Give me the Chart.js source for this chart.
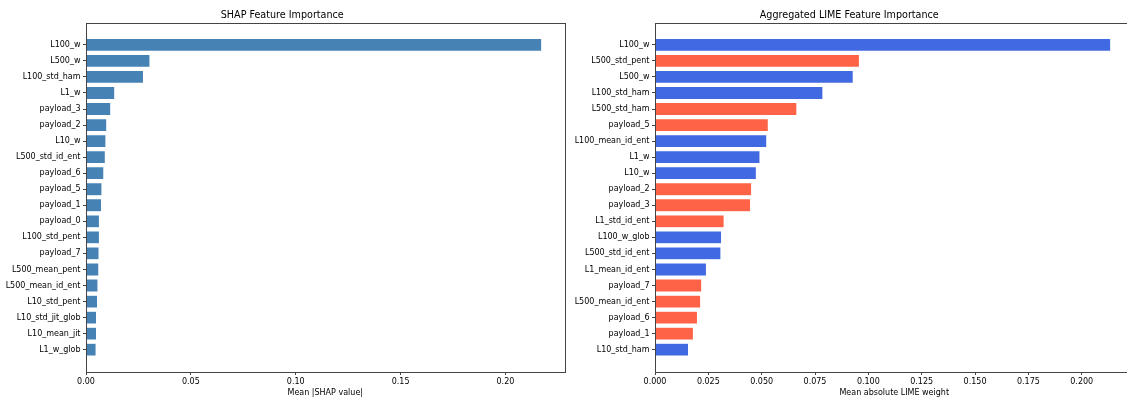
<!DOCTYPE html>
<html lang="en">
<head>
<meta charset="UTF-8">
<title>SHAP vs LIME feature importance</title>
<script src="https://cdn.jsdelivr.net/npm/chart.js"></script>
<style>
  html, body { margin: 0; padding: 0; background: #fff; overflow: hidden; width: 1127px; height: 398px; }
  canvas { position: absolute; top: 0; }
  #shap { left: 0; }
  #lime { left: 565px; }
</style>
</head>
<body>
<canvas id="shap" width="570" height="398" style="width:570px;height:398px"></canvas>
<canvas id="lime" width="575" height="398" style="width:575px;height:398px"></canvas>
<script>
// --- SHAP (left) ---
const shapFeatures = ['L100_w', 'L500_w', 'L100_std_ham', 'L1_w', 'payload_3', 'payload_2', 'L10_w',
  'L500_std_id_ent', 'payload_6', 'payload_5', 'payload_1', 'payload_0', 'L100_std_pent', 'payload_7',
  'L500_mean_pent', 'L500_mean_id_ent', 'L10_std_pent', 'L10_std_jit_glob', 'L10_mean_jit', 'L1_w_glob'];
const shapValues = [0.2173, 0.0305, 0.0274, 0.0137, 0.0118, 0.0099, 0.0095,
  0.0092, 0.0085, 0.0076, 0.0074, 0.0064, 0.0064, 0.0062,
  0.0061, 0.0057, 0.0055, 0.0050, 0.0050, 0.0048];
const shapTicks = [0, 0.05, 0.10, 0.15, 0.20];

// --- LIME (right) ---
const limeFeatures = ['L100_w', 'L500_std_pent', 'L500_w', 'L100_std_ham', 'L500_std_ham', 'payload_5',
  'L100_mean_id_ent', 'L1_w', 'L10_w', 'payload_2', 'payload_3', 'L1_std_id_ent', 'L100_w_glob',
  'L500_std_id_ent', 'L1_mean_id_ent', 'payload_7', 'L500_mean_id_ent', 'payload_6', 'payload_1', 'L10_std_ham'];
const limeValues = [0.2136, 0.0958, 0.0929, 0.0787, 0.0665, 0.0531,
  0.0524, 0.0492, 0.0475, 0.0453, 0.0448, 0.0324, 0.0312,
  0.0309, 0.0241, 0.0219, 0.0214, 0.0199, 0.0180, 0.0157];
// +1 = positive mean weight, -1 = negative
const limeSign = [1, -1, 1, 1, -1, -1, 1, 1, 1, -1, -1, -1, 1, 1, 1, -1, -1, -1, -1, 1];
const limeTicks = [0, 0.025, 0.05, 0.075, 0.10, 0.125, 0.15, 0.175, 0.20];

const FONT = 'DejaVu Sans';
const SPINE = '#444';

// matplotlib-like box around the plot area
const framePlugin = {
  id: 'frame',
  afterDraw(chart) {
    const a = chart.chartArea, ctx = chart.ctx;
    ctx.save();
    ctx.strokeStyle = SPINE;
    ctx.lineWidth = 1;
    ctx.strokeRect(Math.round(a.left) + 0.5, Math.round(a.top) + 0.5,
      Math.round(a.right - a.left), Math.round(a.bottom - a.top));
    ctx.restore();
  }
};

function makeChart(id, names, values, colors, ticks, title, xTitle, yWidth, padRight) {
  const n = names.length;
  const margin = (n - 1 + 0.8) * 0.05;
  const xMax = Math.max(...values) * 1.05;
  return new Chart(document.getElementById(id), {
    type: 'bar',
    data: {
      datasets: [{
        data: values.map((v, i) => ({ x: v, y: i })),
        backgroundColor: colors,
        borderColor: 'rgba(255,255,255,0.5)',
        borderWidth: 0.5,
        barPercentage: 0.8,
        categoryPercentage: 1
      }]
    },
    plugins: [framePlugin],
    options: {
      indexAxis: 'y',
      responsive: false,
      animation: false,
      devicePixelRatio: 1,
      layout: { padding: { left: 0, right: padRight, top: 0, bottom: 0 } },
      plugins: {
        legend: { display: false },
        tooltip: { enabled: false },
        title: {
          display: true,
          text: title,
          color: '#000',
          font: { family: FONT, size: 9.6, weight: 'normal' },
          padding: { top: 10, bottom: 1 }
        }
      },
      scales: {
        x: {
          type: 'linear',
          min: 0,
          max: xMax,
          afterFit: (s) => { s.height = 26; },
          afterBuildTicks: (s) => { s.ticks = ticks.map(v => ({ value: v })); },
          ticks: {
            color: '#000',
            padding: 2.5,
            font: { family: FONT, size: 8 },
            callback: (v) => v.toFixed(ticks[1] < 0.05 ? 3 : 2)
          },
          grid: { drawOnChartArea: false, tickLength: 3, color: SPINE },
          border: { display: false },
          title: {
            display: true,
            text: xTitle,
            color: '#000',
            font: { family: FONT, size: 8 },
            padding: { top: 0, bottom: 0 }
          }
        },
        y: {
          type: 'linear',
          reverse: true,
          offset: false,
          min: -0.4 - margin,
          max: n - 1 + 0.4 + margin,
          afterFit: (s) => { s.width = yWidth; },
          afterBuildTicks: (s) => { s.ticks = names.map((_, i) => ({ value: i })); },
          ticks: {
            color: '#000',
            padding: 2.5,
            autoSkip: false,
            font: { family: FONT, size: 8 },
            callback: (v) => names[v]
          },
          grid: { drawOnChartArea: false, tickLength: 3, color: SPINE, offset: false },
          border: { display: false }
        }
      }
    }
  });
}

makeChart('shap', shapFeatures, shapValues, '#4682B4', shapTicks,
  'SHAP Feature Importance', 'Mean |SHAP value|', 86, 5.5);

makeChart('lime', limeFeatures, limeValues, limeSign.map(s => s > 0 ? '#4169E1' : '#FF6347'), limeTicks,
  'Aggregated LIME Feature Importance', 'Mean absolute LIME weight', 90, 6.5);
</script>
</body>
</html>
